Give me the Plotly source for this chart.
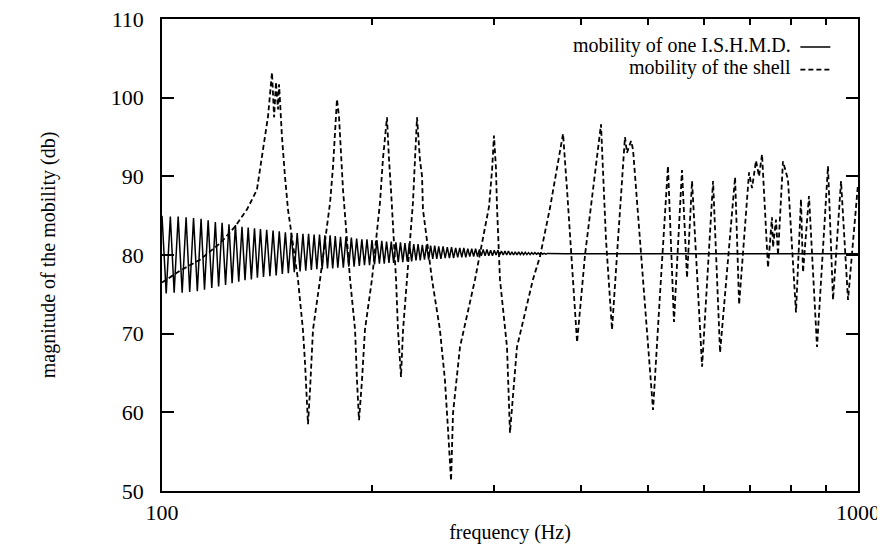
import plotly.graph_objects as go

# ---- data ----
x_tick_vals = [100, 1000]
x_tick_text = ["100", "1000"]
x_minor_vals = [200, 300, 400, 500, 600, 700, 800, 900]
y_tick_vals = [50, 60, 70, 80, 90, 100, 110]

series_names = ["mobility of one I.S.H.M.D.", "mobility of the shell"]

# mobility of one I.S.H.M.D. (solid) - frequency (Hz)
ishmd_freq = [
    100.0, 101.4, 102.8, 104.1, 105.5, 106.9, 108.3, 109.6, 111.0, 112.4,
    113.8, 115.1, 116.5, 117.9, 119.3, 120.6, 122.0, 123.4, 124.8, 126.1,
    127.5, 128.9, 130.3, 131.6, 133.0, 134.4, 135.8, 137.1, 138.5, 139.9,
    141.4, 142.9, 144.4, 145.9, 147.4, 148.9, 150.4, 151.9, 153.4, 154.9,
    156.4, 157.9, 159.4, 160.9, 162.4, 163.9, 165.4, 166.9, 168.4, 169.9,
    171.4, 172.9, 174.4, 175.9, 177.4, 178.9,
    180.5, 182.2, 183.8, 185.5, 187.1, 188.8, 190.4, 192.1, 193.7, 195.4,
    197.0, 198.7, 200.3, 202.0, 203.6, 205.3, 206.9, 208.6, 210.2, 211.9,
    213.5, 215.2, 216.8, 218.5, 220.1, 221.8, 223.4, 225.1, 226.7, 228.4,
    230.0, 231.7, 233.3, 235.0, 236.6, 238.3, 239.9, 241.6, 243.2, 244.9,
    246.5, 248.2, 249.8,
    251.6, 253.4, 255.2, 257.0, 258.8, 260.6, 262.4, 264.2, 266.0, 267.8,
    269.6, 271.4, 273.2, 275.0, 276.8, 278.6, 280.4, 282.2, 284.0, 285.8,
    287.6, 289.4, 291.2, 293.0, 294.8, 296.6, 298.4, 300.2, 302.0, 303.8,
    305.6, 307.4, 309.2, 311.0, 312.8, 314.6, 316.4, 318.2, 320.0, 321.8,
    323.6, 325.4, 327.2, 329.0, 330.8, 332.6, 334.4, 336.2, 338.0, 339.8,
    341.6, 343.4, 345.2, 347.0, 348.8, 350.6, 352.4, 354.2, 356.0, 357.8,
    380.0, 500.0, 700.0, 1000.0,
]
# mobility of one I.S.H.M.D. (solid) - magnitude (db)
ishmd_db = [
    85.0, 75.1, 84.9, 75.2, 84.9, 75.2, 84.8, 75.3, 84.7, 75.4,
    84.6, 75.6, 84.4, 75.8, 84.2, 76.0, 84.1, 76.2, 83.9, 76.4,
    83.8, 76.6, 83.6, 76.8, 83.5, 76.9, 83.4, 77.1, 83.3, 77.2,
    83.2, 77.3, 83.1, 77.4, 83.0, 77.6, 82.9, 77.7, 82.8, 77.8,
    82.8, 77.9, 82.7, 78.0, 82.7, 78.1, 82.6, 78.2, 82.6, 78.2,
    82.5, 78.3, 82.5, 78.3, 82.4, 78.4,
    82.3, 78.4, 82.3, 78.5, 82.2, 78.5, 82.1, 78.6, 82.0, 78.7,
    82.0, 78.7, 81.9, 78.8, 81.9, 78.9, 81.8, 78.9, 81.7, 79.0,
    81.7, 79.0, 81.6, 79.1, 81.6, 79.1, 81.5, 79.2, 81.5, 79.2,
    81.4, 79.3, 81.4, 79.3, 81.3, 79.4, 81.3, 79.4, 81.2, 79.5,
    81.2, 79.5, 81.1,
    79.5, 81.1, 79.6, 81.0, 79.6, 81.0, 79.6, 80.9, 79.7, 80.9,
    79.7, 80.9, 79.7, 80.8, 79.8, 80.8, 79.8, 80.8, 79.8, 80.7,
    79.9, 80.7, 79.9, 80.7, 79.9, 80.6, 79.9, 80.6, 80.0, 80.6,
    80.0, 80.5, 80.0, 80.5, 80.0, 80.5, 80.0, 80.4, 80.0, 80.4,
    80.0, 80.4, 80.05, 80.35, 80.05, 80.35, 80.05, 80.3, 80.05, 80.3,
    80.1, 80.3, 80.1, 80.25, 80.1, 80.25, 80.1, 80.2, 80.1, 80.2,
    80.15, 80.15, 80.15, 80.15,
]

# mobility of the shell (dashed)
shell_freq = [
    100.0, 106.1, 113.4, 121.2, 127.3, 132.5, 136.9, 139.7, 142.0, 143.9,
    144.9, 145.8, 146.8, 147.3, 148.7, 150.2, 151.7, 156.8, 159.4, 160.5,
    161.6, 162.1, 163.2, 164.8, 168.7, 174.4, 176.1, 177.3, 178.4, 179.6,
    180.8, 182.0, 186.3, 189.4, 190.6, 191.9, 193.8, 195.7, 200.3, 205.7,
    207.7, 210.5, 211.9, 213.3, 216.9, 218.3, 220.5, 222.0, 224.9, 229.4,
    230.9, 232.5, 234.8, 236.4, 237.1, 244.3, 250.8, 255.0, 257.6, 260.2,
    261.9, 268.0, 281.7, 295.1, 298.1, 299.9, 301.9, 302.9, 305.9, 313.1,
    316.2, 323.6, 341.2, 349.2, 361.0, 369.5, 376.9, 381.9, 388.3, 394.8,
    405.3, 416.2, 427.3, 434.4, 443.2, 452.1, 462.6, 465.7, 472.0, 475.1,
    486.2, 497.6, 507.6, 519.4, 533.3, 544.0, 558.6, 568.0, 577.5, 597.0,
    619.1, 633.6, 665.9, 674.8, 697.4, 704.3, 713.6, 720.8, 728.0, 742.5,
    752.3, 754.9, 762.4, 767.5, 780.2, 788.0, 793.2, 814.5, 828.1, 833.6,
    850.3, 873.2, 905.5, 920.7, 945.4, 967.5, 1000.0,
]
shell_db = [
    76.5, 78.0, 79.4, 81.5, 83.6, 85.8, 88.3, 93.4, 97.6, 103.2,
    97.5, 102.0, 98.5, 101.7, 95.1, 90.0, 85.8, 76.9, 70.5, 66.3,
    61.2, 58.5, 62.9, 70.5, 76.9, 86.7, 91.3, 95.6, 99.8, 97.6,
    93.4, 88.3, 76.9, 70.5, 64.1, 59.0, 64.1, 70.5, 76.9, 86.7,
    92.2, 97.5, 92.2, 88.3, 76.9, 70.5, 64.5, 70.5, 76.9, 86.7,
    92.0, 97.5, 92.0, 90.0, 85.8, 76.9, 70.5, 64.1, 57.8, 51.3,
    59.9, 68.3, 76.9, 86.2, 91.0, 95.2, 91.0, 86.2, 76.9, 68.3,
    57.4, 68.3, 76.9, 79.8, 86.0, 91.0, 95.4, 88.3, 78.0, 68.9,
    80.0, 88.0, 96.6, 82.0, 70.5, 82.0, 95.0, 93.0, 94.5, 93.4,
    82.0, 70.0, 60.3, 75.0, 91.3, 71.5, 90.8, 77.1, 89.4, 65.8,
    89.4, 67.6, 89.9, 73.7, 90.5, 88.5, 92.0, 90.0, 92.8, 78.4,
    84.8, 81.0, 84.5, 80.0, 91.9, 90.5, 89.6, 72.7, 87.1, 77.8,
    87.5, 68.3, 91.3, 74.3, 89.4, 74.3, 89.0,
]

FONT = "Liberation Serif, Times New Roman, Times, serif"

fig = go.Figure()
fig.add_trace(go.Scatter(
    x=ishmd_freq, y=ishmd_db, mode="lines", name=" ",
    line=dict(color="black", width=1.5),
    hovertext=series_names[0],
))
fig.add_trace(go.Scatter(
    x=shell_freq, y=shell_db, mode="lines", name=" ",
    line=dict(color="black", width=1.8, dash="5px,3px"),
    hovertext=series_names[1],
))

# legend labels (gnuplot style: text on the left, sample on the right)
legend_label_y = [0.9449, 0.8962]
for nm, ly in zip(series_names, legend_label_y):
    fig.add_annotation(
        text=nm, xref="paper", yref="paper",
        x=0.906, y=ly, xanchor="right", yanchor="middle",
        showarrow=False, font=dict(family=FONT, size=20, color="black"),
    )

# page body has an 8px default margin, so the figure is 8px smaller and
# its margins are shifted to keep the plot area where the reference has it
fig.update_layout(
    width=877, height=542,
    margin=dict(l=154, r=27, t=11, b=59, autoexpand=False),
    paper_bgcolor="white", plot_bgcolor="white",
    font=dict(family=FONT, size=22, color="black"),
    showlegend=True,
    legend=dict(
        x=0.91, y=0.975, xanchor="left", yanchor="top",
        bgcolor="rgba(0,0,0,0)", borderwidth=0,
        font=dict(family=FONT, size=15),
        tracegroupgap=0, itemwidth=30,
    ),
    xaxis=dict(
        type="log", range=[2, 3], automargin=False,
        tickmode="array", tickvals=x_tick_vals, ticktext=x_tick_text,
        ticks="inside", ticklen=12, tickwidth=1.5, tickcolor="black",
        minor=dict(tickmode="array", tickvals=x_minor_vals, ticks="inside",
                   ticklen=6, tickwidth=1.5, tickcolor="black"),
        showline=True, linecolor="black", linewidth=1.5, mirror="ticks",
        showgrid=False, zeroline=False,
        ticklabelstandoff=1, ticklabeloverflow="allow",
        title=dict(text="frequency (Hz)", font=dict(family=FONT, size=20), standoff=1),
        tickfont=dict(family=FONT, size=22),
    ),
    yaxis=dict(
        range=[50, 110], automargin=False,
        tickmode="array", tickvals=y_tick_vals,
        ticks="inside", ticklen=12, tickwidth=1.5, tickcolor="black",
        showline=True, linecolor="black", linewidth=1.5, mirror="ticks",
        showgrid=False, zeroline=False,
        ticklabelstandoff=12, ticklabeloverflow="allow",
        title=dict(text="magnitude of the mobility (db)", font=dict(family=FONT, size=20), standoff=50),
        tickfont=dict(family=FONT, size=22),
    ),
)

fig.write_html("out.html")
